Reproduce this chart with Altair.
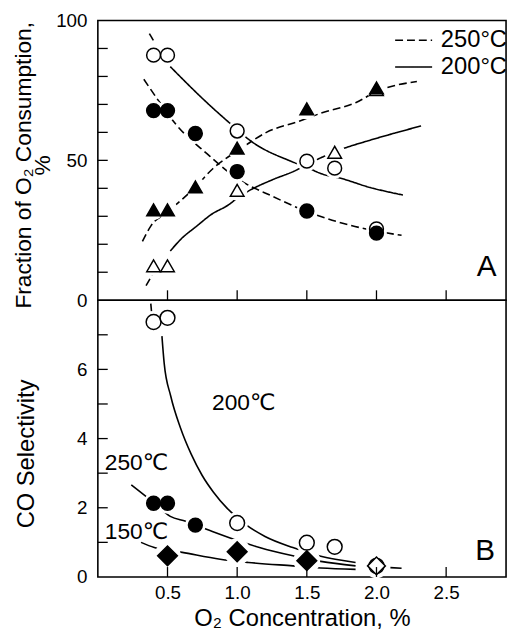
import altair as alt
import pandas as pd

FONT = "Liberation Sans, DejaVu Sans, Noto Sans CJK SC"

# ---------------- Panel A : fraction of O2 consumption (%) ----------------
A_CIRC200_X = [0.4, 0.5, 1.0, 1.5, 1.7, 2.0]
A_CIRC200_Y = [87.6, 87.6, 60.5, 49.7, 47.2, 25.5]
A_CIRC250_X = [0.4, 0.5, 0.7, 1.0, 1.5, 2.0]
A_CIRC250_Y = [67.8, 67.8, 59.6, 46.0, 31.9, 24.0]
A_TRI250_X = [0.4, 0.5, 0.7, 1.0, 1.5, 2.0]
A_TRI250_Y = [32.3, 32.3, 40.5, 54.4, 68.4, 75.9]
A_TRI200_X = [0.4, 0.5, 1.0, 1.7, 2.0]
A_TRI200_Y = [12.3, 12.3, 39.3, 52.9, 75.3]

# fitted curves
A_DEC250_X = [0.33, 0.43, 0.56, 0.785, 1.0, 1.26, 1.5, 1.75, 2.0, 2.18]
A_DEC250_Y = [79, 71.7, 62.9, 52.3, 43.5, 37, 31.7, 27.6, 24.7, 23.2]
A_DEC200_X = [0.52, 0.76, 1.0, 1.08, 1.39, 1.5, 1.6, 1.75, 1.94, 2.19]
A_DEC200_Y = [83.5, 71.7, 61, 57.6, 49.6, 47.5, 45.3, 43.5, 40.5, 37.6]
A_INC250_X = [0.32, 0.38, 0.5, 0.7, 0.825, 1.02, 1.21, 1.445, 1.61, 1.85, 2.0, 2.29]
A_INC250_Y = [21, 26.5, 31.5, 40.5, 47, 54, 60, 64, 67, 70.6, 74.6, 78.2]
A_INC200_X = [0.52, 0.6, 0.71, 0.81, 0.95, 1.0, 1.08, 1.25, 1.42, 1.5, 1.75, 1.94, 2.15, 2.32]
A_INC200_Y = [17.6, 22, 26.5, 30.5, 34.5, 36.5, 39, 43, 46.4, 48.5, 54, 57, 60, 62.3]
A_FRAG1_X = [0.37, 0.405]
A_FRAG1_Y = [95.3, 92.3]
A_FRAG2_X = [0.346, 0.393]
A_FRAG2_Y = [5.2, 9.3]

# ---------------- Panel B : CO selectivity ----------------
B_CIRC200_X = [0.4, 0.5, 1.0, 1.5, 1.7, 2.0]
B_CIRC200_Y = [7.37, 7.49, 1.56, 0.99, 0.87, 0.32]
B_CIRC250_X = [0.4, 0.5, 0.7]
B_CIRC250_Y = [2.13, 2.13, 1.50]
B_DIAM150_X = [0.5, 1.0, 1.5]
B_DIAM150_Y = [0.61, 0.73, 0.47]
B_DIAMOPEN_X = [2.0]
B_DIAMOPEN_Y = [0.32]

B_C200_X = [0.46, 0.476, 0.523, 0.594, 0.67, 0.748, 0.83, 0.927, 1.0, 1.067, 1.2, 1.4, 1.6, 1.85]
B_C200_Y = [6.96, 6.18, 5.23, 4.3, 3.55, 2.94, 2.45, 1.99, 1.72, 1.5, 1.17, 0.85, 0.6, 0.42]
B_C250_X = [0.24, 0.4, 0.52, 0.63, 0.8, 1.02, 1.16, 1.4, 1.6, 1.85]
B_C250_Y = [2.66, 2.15, 1.75, 1.61, 1.35, 1.03, 0.85, 0.61, 0.45, 0.32]
B_C150_X = [0.31, 0.405, 0.606, 0.878, 1.08, 1.4, 1.6, 1.85]
B_C150_Y = [1.0, 0.85, 0.71, 0.51, 0.42, 0.32, 0.26, 0.22]
B_FRAG1_X = [2.1, 2.18]
B_FRAG1_Y = [0.27, 0.25]
B_FRAG2_X = [0.38, 0.385]
B_FRAG2_Y = [7.9, 7.68]

TEMPS = ["250°C", "200°C"]
X_TICKS = [0.5, 1.0, 1.5, 2.0, 2.5]
A_Y_LABELS = [0, 50, 100]
A_Y_TICKS = [10, 20, 30, 40, 50, 60, 70, 80, 90]
B_Y_LABELS = [0, 2, 4, 6]
B_Y_TICKS = [1, 2, 3, 4, 5, 6, 7]

B_LABELS = ["200℃", "250℃", "150℃"]
B_LABEL_X = [0.82, 0.05, 0.05]
B_LABEL_Y = [5.03, 3.29, 1.31]
PANEL_LETTERS = ["A", "B"]
PANEL_LETTER_X = [2.79, 2.78]
PANEL_LETTER_Y = [11.7, 0.74]

# marker styles: kind -> (shape, fill, size)
STYLE = {
    "open_circle": ("circle", "white", 196),
    "filled_circle": ("circle", "black", 196),
    "open_tri": ("triangle-up", "white", 190),
    "filled_tri": ("triangle-up", "black", 190),
    "open_circle_b": ("circle", "white", 225),
    "filled_diam": ("diamond", "black", 400),
    "open_diam": ("diamond", "white", 324),
}
HALO_EXTRA = 7


def points(series):
    rows = []
    for kind, xs, ys in series:
        shape, fill, size = STYLE[kind]
        d = size ** 0.5 + HALO_EXTRA
        for x, y in zip(xs, ys):
            rows.append({"x": x, "y": y, "shape": shape, "fill": fill,
                         "size": size, "halo": d * d})
    df = pd.DataFrame(rows)
    df["o"] = (df["fill"] == "black").astype(int)
    return df.sort_values("o", kind="stable").reset_index(drop=True)


def curves(series):
    rows = []
    for cid, temp, xs, ys in series:
        for i, (x, y) in enumerate(zip(xs, ys)):
            rows.append({"cid": cid, "temp": temp, "x": x, "y": y, "i": i})
    return pd.DataFrame(rows)


ptsA = points([
    ("open_circle", A_CIRC200_X, A_CIRC200_Y),
    ("open_tri", A_TRI200_X, A_TRI200_Y),
    ("filled_circle", A_CIRC250_X, A_CIRC250_Y),
    ("filled_tri", A_TRI250_X, A_TRI250_Y),
])
ptsB = points([
    ("open_circle_b", B_CIRC200_X, B_CIRC200_Y),
    ("open_diam", B_DIAMOPEN_X, B_DIAMOPEN_Y),
    ("filled_circle", B_CIRC250_X, B_CIRC250_Y),
    ("filled_diam", B_DIAM150_X, B_DIAM150_Y),
])
curA = curves([
    ("dec250", TEMPS[0], A_DEC250_X, A_DEC250_Y),
    ("inc250", TEMPS[0], A_INC250_X, A_INC250_Y),
    ("frag1", TEMPS[0], A_FRAG1_X, A_FRAG1_Y),
    ("frag2", TEMPS[0], A_FRAG2_X, A_FRAG2_Y),
    ("dec200", TEMPS[1], A_DEC200_X, A_DEC200_Y),
    ("inc200", TEMPS[1], A_INC200_X, A_INC200_Y),
])
curB = curves([
    ("c200", "200", B_C200_X, B_C200_Y),
    ("c250", "250", B_C250_X, B_C250_Y),
    ("c150", "150", B_C150_X, B_C150_Y),
    ("f1", "250", B_FRAG1_X, B_FRAG1_Y),
    ("f2", "200", B_FRAG2_X, B_FRAG2_Y),
])

W = 413
HA = 283
HB = 280
TICK = 10

xscale = alt.Scale(domain=[0, 2.93], nice=False, zero=False)
yA = alt.Scale(domain=[0, 100], nice=False)
yB = alt.Scale(domain=[0, 8], nice=False)

axXA = None
axXB = alt.Axis(values=X_TICKS, format=".1f", title="O₂ Concentration, %",
                ticks=False, domain=False, grid=False, labelPadding=7,
                labelFontSize=19, titleFontSize=24, titlePadding=4)
axYA = alt.Axis(values=A_Y_LABELS, title=["Fraction of O₂ Consumption,", "%"],
                ticks=False, domain=False, grid=False, labelPadding=11,
                labelFontSize=19, titleFontSize=23, titlePadding=6,
                titleLineHeight=19, minExtent=38, maxExtent=38, titleY=146)
axYB = alt.Axis(values=B_Y_LABELS, title="CO Selectivity",
                ticks=False, domain=False, grid=False, labelPadding=11,
                labelFontSize=19, titleFontSize=24, titlePadding=22,
                minExtent=38, maxExtent=38, titleY=155)


def panel(pts, cur, ysc, axX, axY, h, dash, yticks, labels):
    def XX(field="x"):
        return alt.X(f"{field}:Q", scale=xscale, axis=axX)

    def YY(field="y"):
        return alt.Y(f"{field}:Q", scale=ysc, axis=axY)

    enc = dict(x=XX(), y=YY(), detail="cid:N", order="i:Q")
    if dash:
        enc["strokeDash"] = alt.StrokeDash(
            "temp:N",
            scale=alt.Scale(domain=TEMPS, range=[[8, 4], [1, 0]]),
            legend=alt.Legend(orient="none", legendX=300, legendY=8, title=None,
                              symbolType="stroke", symbolSize=1400,
                              symbolStrokeWidth=1.5, symbolStrokeColor="black",
                              labelFontSize=24, labelOffset=8, rowPadding=3,
                              clipHeight=24,
                              labelFont=FONT, labelColor="black", padding=0),
        )
    lines = alt.Chart(cur).mark_line(color="black", strokeWidth=1.6,
                                     interpolate="monotone").encode(**enc)
    halo = alt.Chart(pts).mark_point(shape="circle", filled=True, fill="white",
                                     strokeWidth=0, opacity=1).encode(
        x=XX(), y=YY(), size=alt.Size("halo:Q", scale=None))
    marks = alt.Chart(pts).mark_point(filled=True, stroke="black",
                                      strokeWidth=1.5, opacity=1).encode(
        x=XX(), y=YY(),
        shape=alt.Shape("shape:N", scale=None),
        fill=alt.Fill("fill:N", scale=None),
        size=alt.Size("size:Q", scale=None),
        order=alt.Order("o:Q"),
    )
    yt = alt.Chart(pd.DataFrame({"v": yticks})).mark_rule(
        color="black", strokeWidth=1.3).encode(
        y=YY("v"), x=alt.value(0), x2=alt.value(TICK))
    xt = alt.Chart(pd.DataFrame({"v": X_TICKS})).mark_rule(
        color="black", strokeWidth=1.3).encode(
        x=XX("v"), y=alt.value(h), y2=alt.value(h - TICK))
    layers = [lines, halo, marks, yt, xt]
    for txt, xs, ys, size, align in labels:
        df = pd.DataFrame({"t": txt, "x": xs, "y": ys})
        layers.append(alt.Chart(df).mark_text(
            font=FONT, fontSize=size, align=align, baseline="middle",
            color="black").encode(x=XX(), y=YY(), text="t:N"))
    return alt.layer(*layers).properties(width=W, height=h)


panelA = panel(ptsA, curA, yA, axXA, axYA, HA, True, A_Y_TICKS,
               [(PANEL_LETTERS[:1], PANEL_LETTER_X[:1], PANEL_LETTER_Y[:1], 30, "center")])
panelB = panel(ptsB, curB, yB, axXB, axYB, HB, False, B_Y_TICKS,
               [(B_LABELS, B_LABEL_X, B_LABEL_Y, 23, "left"),
                (PANEL_LETTERS[1:], PANEL_LETTER_X[1:], PANEL_LETTER_Y[1:], 30, "center")])

chart = alt.vconcat(panelA, panelB, spacing=0, bounds="flush").resolve_scale(
    y="independent", strokeDash="independent"
).resolve_legend(strokeDash="independent").properties(
    padding={"left": 12, "top": 7, "right": 2, "bottom": 0},
    background="white",
).configure_view(
    stroke="black", strokeWidth=1.6
).configure_axis(
    labelFont=FONT, titleFont=FONT, labelColor="black", titleColor="black",
    titleFontWeight="normal"
)

chart.save("out.html", embed_options={"renderer": "svg", "actions": False})
